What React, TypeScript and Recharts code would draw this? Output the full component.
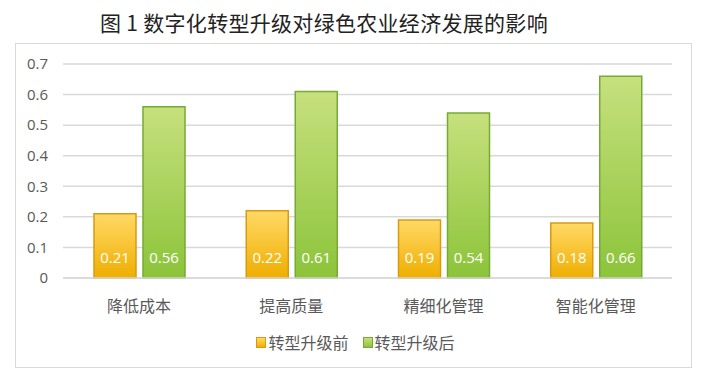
import React from "react";
import { BarChart, Bar, XAxis, YAxis, CartesianGrid, LabelList, Legend } from "recharts";

const categories = ["降低成本", "提高质量", "精细化管理", "智能化管理"];
const beforeValues = [0.21, 0.22, 0.19, 0.18];
const afterValues = [0.56, 0.61, 0.54, 0.66];
const yTicks = [0, 0.1, 0.2, 0.3, 0.4, 0.5, 0.6, 0.7];
const seriesNames = ["转型升级前", "转型升级后"];
const titleText = "图 1 数字化转型升级对绿色农业经济发展的影响";

const data = categories.map((c, i) => ({ name: c, before: beforeValues[i], after: afterValues[i] }));

const CJK = '"Noto Sans CJK SC", "Noto Sans", sans-serif';
const NUM = '"Open Sans", "Noto Sans", sans-serif';

const legendItems = [
  { name: seriesNames[0], top: "#FFD966", bottom: "#EFAE00", stroke: "#D99A12" },
  { name: seriesNames[1], top: "#C6E07E", bottom: "#8CC43A", stroke: "#77AA32" },
];

const renderLegend = () => (
  <div style={{ display: "flex", justifyContent: "center", alignItems: "center", width: 711, height: 20 }}>
    {legendItems.map((it, i) => (
      <div key={i} style={{ display: "flex", alignItems: "center", marginRight: i === 0 ? 14 : 0 }}>
        <span
          style={{
            display: "inline-block",
            width: 8,
            height: 9,
            background: `linear-gradient(${it.top}, ${it.bottom})`,
            border: `1px solid ${it.stroke}`,
            marginRight: 2,
          }}
        />
        <span style={{ fontFamily: CJK, fontSize: 16, color: "#595959", lineHeight: "20px" }}>{it.name}</span>
      </div>
    ))}
  </div>
);

export default function App() {
  return (
    <div style={{ position: "absolute", left: 0, top: 0, width: 711, height: 383, background: "#fff" }}>
      <div
        style={{
          position: "absolute",
          left: 100,
          top: 9,
          fontFamily: CJK,
          fontSize: 21,
          color: "#222",
          whiteSpace: "nowrap",
          lineHeight: "26px",
          letterSpacing: 0.3,
        }}
      >
        {titleText}
      </div>
      <div
        style={{
          position: "absolute",
          left: 15,
          top: 43,
          width: 675,
          height: 323,
          border: "1.5px solid #d9d9d9",
        }}
      />
      <div style={{ position: "absolute", left: 0, top: 0 }}>
        <BarChart
          width={711}
          height={383}
          data={data}
          margin={{ top: 64, right: 39, left: 0, bottom: 31 }}
          barSize={42}
          barGap={7}
        >
          <defs>
            <linearGradient id="gOrange" x1="0" y1="0" x2="0" y2="1">
              <stop offset="0%" stopColor="#FFD966" />
              <stop offset="100%" stopColor="#EFAE00" />
            </linearGradient>
            <linearGradient id="gGreen" x1="0" y1="0" x2="0" y2="1">
              <stop offset="0%" stopColor="#C6E07E" />
              <stop offset="100%" stopColor="#8CC43A" />
            </linearGradient>
          </defs>
          <CartesianGrid vertical={false} stroke="#d9d9d9" strokeWidth={1.5} />
          <XAxis
            dataKey="name"
            height={54}
            axisLine={{ stroke: "#d9d9d9", strokeWidth: 1.5 }}
            tickLine={false}
            tickMargin={17}
            tick={{ fill: "#595959", fontSize: 16, fontFamily: CJK }}
            interval={0}
          />
          <YAxis
            width={63}
            domain={[0, 0.7]}
            ticks={yTicks}
            axisLine={false}
            tickLine={false}
            tickMargin={9}
            tick={{ fill: "#595959", fontSize: 15, fontFamily: NUM }}
            tickFormatter={(v: number) => String(v)}
          />
          <Legend verticalAlign="bottom" height={20} content={renderLegend} wrapperStyle={{ left: 0, width: 711 }} />
          <Bar dataKey="before" name={seriesNames[0]} fill="url(#gOrange)" stroke="#D99A12" strokeWidth={1.5} isAnimationActive={false}>
            <LabelList dataKey="before" position="insideBottom" offset={15} fill="#fff" fontSize={15} fontFamily={NUM} />
          </Bar>
          <Bar dataKey="after" name={seriesNames[1]} fill="url(#gGreen)" stroke="#77AA32" strokeWidth={1.5} isAnimationActive={false}>
            <LabelList dataKey="after" position="insideBottom" offset={15} fill="#fff" fontSize={15} fontFamily={NUM} />
          </Bar>
        </BarChart>
      </div>
    </div>
  );
}
